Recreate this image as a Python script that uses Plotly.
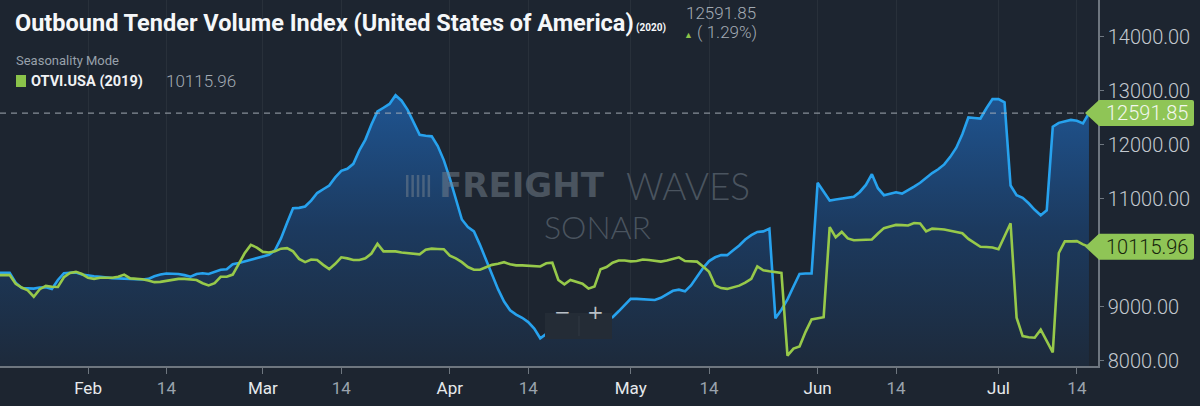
import pandas as pd
import plotly.graph_objects as go

# ---------------- data ----------------
start_date = "2020-01-17"
otvi_2020 = [
    9635, 9635, 9635, 9450, 9350, 9345, 9340, 9360, 9365, 9335,
    9500, 9625, 9630, 9640, 9600, 9580, 9570, 9560, 9545, 9535,
    9530, 9525, 9520, 9515, 9510, 9520, 9570, 9600, 9620, 9615,
    9610, 9590, 9560, 9610, 9625, 9610, 9650, 9690, 9700, 9790,
    9815, 9845, 9880, 9910, 9940, 9965, 10050, 10270, 10555, 10830,
    10835, 10860, 10970, 11110, 11180, 11250, 11400, 11520, 11560, 11650,
    11900, 12100, 12380, 12620, 12690, 12760, 12920, 12820, 12650, 12420,
    12190, 12170, 12160, 11980, 11720, 11380, 11000, 10620, 10480, 10400,
    10150, 9870, 9600, 9330, 9100, 8940, 8860, 8800, 8720, 8600,
    8420, 8500, 8560, 8600, 8640, 8680, 8700, 8720, 8740, 8760,
    8780, 8790, 8810, 8920, 9030, 9150, 9150, 9140, 9135, 9130,
    9170, 9230, 9300, 9320, 9290, 9400, 9570, 9720, 9850, 9920,
    9960, 9960, 10050, 10140, 10250, 10330, 10390, 10400, 10450, 8790,
    8950, 9140, 9380, 9610, 9620, 9620, 11300, 11130, 10970, 10990,
    11010, 11025, 11040, 11130, 11260, 11460, 11200, 11070, 11100, 11125,
    11100, 11160, 11230, 11300, 11390, 11480, 11550, 11640, 11780, 11950,
    12200, 12510, 12500, 12490, 12680, 12850, 12850, 12790, 11250, 11070,
    11020, 10920, 10800, 10700, 10790, 12340, 12410, 12440, 12465, 12450,
    12400, 12591.85,
]
otvi_2019 = [
    9590, 9590, 9590, 9430, 9360, 9310, 9190, 9330, 9390, 9375,
    9370, 9550, 9630, 9650, 9610, 9540, 9520, 9540, 9535, 9540,
    9560, 9600, 9530, 9520, 9515, 9490, 9460, 9465, 9480, 9500,
    9520, 9520, 9510, 9500, 9440, 9400, 9440, 9560, 9560, 9600,
    9800, 10000, 10150, 10100, 10020, 10010, 10030, 10080, 10090, 10030,
    9890, 9830, 9880, 9870, 9780, 9700, 9800, 9920, 9900, 9870,
    9870, 9900, 9990, 10170, 10030, 10030, 10030, 10010, 10000, 9990,
    9975, 10060, 10080, 10075, 10070, 9950, 9900, 9830, 9740, 9690,
    9690, 9735, 9780, 9800, 9830, 9790, 9770, 9770, 9765, 9760,
    9750, 9810, 9820, 9500, 9420, 9500, 9460, 9430, 9340, 9380,
    9700, 9740, 9820, 9860, 9860, 9845, 9850, 9880, 9870, 9860,
    9840, 9860, 9890, 9920, 9850, 9840, 9840, 9750, 9650, 9400,
    9350, 9335, 9360, 9395, 9450, 9520, 9750, 9680, 9660, 9650,
    9630, 8100, 8230, 8270, 8540, 8770, 8790, 8810, 10480, 10290,
    10390, 10270, 10235, 10240, 10245, 10250, 10360, 10460, 10490, 10520,
    10515, 10510, 10555, 10545, 10400, 10450, 10445, 10435, 10410, 10390,
    10365, 10260, 10180, 10115, 10110, 10100, 10070, 10300, 10550, 8800,
    8460, 8440, 8430, 8580, 8370, 8160, 10000, 10215, 10215, 10220,
    10160, 10115.96,
]
tick_dates = ["2020-02-01", "2020-02-14", "2020-03-01", "2020-03-14", "2020-04-01", "2020-04-14",
              "2020-05-01", "2020-05-14", "2020-06-01", "2020-06-14", "2020-07-01", "2020-07-14"]
tick_labels = ["Feb", "14", "Mar", "14", "Apr", "14", "May", "14", "Jun", "14", "Jul", "14"]
y_ticks = [8000, 9000, 11000, 12000, 13000, 14000]  # 10000 is hidden behind the last-value tag
change_pct = 1.29
title_text = "Outbound Tender Volume Index (United States of America)"
series_2019_name = "OTVI.USA (2019)"

# ---------------- styling ----------------
W, H = 1200, 406
ML, MR, MT, MB = 0, 102, 0, 40
PW, PH = W - ML - MR, H - MT - MB
BG = "#1d2530"
BLUE = "#27a2ee"
GREEN = "#97c94a"
TAG_GREEN = "#8fc556"
GRAY = "#a3abb4"


def px(x):
    return x / PW


def py(y):
    return 1 - y / PH


dates = pd.date_range(start_date, periods=len(otvi_2020), freq="D")
feb1 = pd.Timestamp("2020-02-01")
x_range = [feb1 - pd.Timedelta(days=14.6), feb1 + pd.Timedelta(days=167.5)]

fig = go.Figure()
fig.add_trace(go.Scatter(
    x=dates, y=otvi_2020, mode="lines",
    line=dict(color=BLUE, width=2.6),
    fill="tozeroy",
    fillgradient=dict(type="vertical", start=7900, stop=13000,
                      colorscale=[[0, "#1d2a3b"], [0.5, "#1c3a5f"], [1, "#1f5592"]]),
    hoverinfo="skip", showlegend=False,
))
fig.add_trace(go.Scatter(
    x=dates, y=otvi_2019, mode="lines",
    line=dict(color=GREEN, width=2.6),
    hoverinfo="skip", showlegend=False,
))

ticktext = []
for lab in tick_labels:
    col = "#e6e9ec" if not lab.isdigit() else "#9aa3ad"
    ticktext.append(f"<span style='color:{col}'>{lab}</span>")

fig.update_layout(
    width=W, height=H,
    margin=dict(l=ML, r=MR, t=MT, b=MB),
    paper_bgcolor=BG, plot_bgcolor=BG,
    font=dict(family="Roboto", color=GRAY),
    xaxis=dict(
        range=x_range, type="date",
        tickvals=pd.to_datetime(tick_dates), ticktext=ticktext,
        tickfont=dict(size=17, family="Roboto"),
        showgrid=True, gridcolor="rgba(255,255,255,0.05)", gridwidth=1,
        showline=True, linecolor="#6e767f", linewidth=1.5,
        ticks="outside", ticklen=6, tickcolor="#6e767f",
        zeroline=False, fixedrange=True,
    ),
    yaxis=dict(
        range=[7907, 14685], side="right",
        tickvals=y_ticks, tickformat=".2f",
        tickfont=dict(size=20, family="Roboto", color="#c3c9cf", weight=300),
        showgrid=False, zeroline=False,
        showline=True, linecolor="#6e767f", linewidth=1.5,
        ticks="outside", ticklen=4, tickcolor="#6e767f",
        fixedrange=True,
    ),
)

shapes = []
annotations = []

# dashed last-value line
shapes.append(dict(type="line", xref="paper", yref="y", x0=0, x1=px(1085),
                   y0=otvi_2020[-1], y1=otvi_2020[-1],
                   line=dict(color="rgba(170,176,184,0.75)", width=1.2, dash="6px,5px"),
                   layer="above"))

# last-value tags on the right axis
tag_path = "M-13,0 L1,13 L94,13 Q96,13 96,11 L96,-11 Q96,-13 94,-13 L1,-13 Z"
for val, txtcol in [(otvi_2020[-1], "#f3f7ee"), (otvi_2019[-1], "#16240c")]:
    shapes.append(dict(type="path", xref="paper", yref="y", xsizemode="pixel", ysizemode="pixel",
                       xanchor=1.0, yanchor=val, path=tag_path,
                       fillcolor=TAG_GREEN, line=dict(width=0), layer="above"))
    annotations.append(dict(xref="paper", yref="y", x=px(PW + 49), y=val, text=f"{val:.2f}",
                            showarrow=False, xanchor="center", yanchor="middle",
                            font=dict(size=20, family="Roboto", color=txtcol, weight=300)))

# zoom buttons overlay
shapes.append(dict(type="rect", xref="paper", yref="paper", x0=px(545), x1=px(612),
                   y0=py(339), y1=py(313), fillcolor="#242c36", line=dict(width=0), layer="above"))
shapes.append(dict(type="line", xref="paper", yref="paper", x0=px(579), x1=px(579),
                   y0=py(336), y1=py(316), line=dict(color="#303843", width=1), layer="above"))
annotations.append(dict(xref="paper", yref="paper", x=px(562), y=py(326), text="−", showarrow=False,
                        font=dict(size=20, color="#b9c0c7", family="DejaVu Sans")))
annotations.append(dict(xref="paper", yref="paper", x=px(595), y=py(326), text="+", showarrow=False,
                        font=dict(size=20, color="#b9c0c7", family="DejaVu Sans")))

# watermark
wm = "rgba(120,131,143,0.5)"
for i in range(5):
    shapes.append(dict(type="rect", xref="paper", yref="paper",
                       x0=px(406 + i * 5.4), x1=px(408.5 + i * 5.4), y0=py(197), y1=py(175),
                       fillcolor=wm, line=dict(width=0), layer="above"))
annotations.append(dict(xref="paper", yref="paper", x=px(437), y=py(185), text="<b>FREIGHT</b>",
                        showarrow=False, xanchor="left", yanchor="middle",
                        font=dict(size=34, family="DejaVu Sans", color=wm)))
annotations.append(dict(xref="paper", yref="paper", x=px(624), y=py(185), text="WAVES",
                        showarrow=False, xanchor="left", yanchor="middle",
                        font=dict(size=37, family="Lato", color=wm, weight=300)))
annotations.append(dict(xref="paper", yref="paper", x=px(597), y=py(226), text="SONAR",
                        showarrow=False, xanchor="center", yanchor="middle",
                        font=dict(size=32, family="Lato", color=wm, weight=300)))

# title block
annotations.append(dict(xref="paper", yref="paper", x=px(13), y=py(23), text=f"<b>{title_text}</b>",
                        showarrow=False, xanchor="left", yanchor="middle",
                        font=dict(size=23.5, family="Roboto", color="#f5f7f9")))
annotations.append(dict(xref="paper", yref="paper", x=px(634), y=py(28), text="<b>(2020)</b>",
                        showarrow=False, xanchor="left", yanchor="middle",
                        font=dict(size=10, family="Roboto", color="#f5f7f9")))
annotations.append(dict(xref="paper", yref="paper", x=px(684), y=py(13), text=f"{otvi_2020[-1]:.2f}",
                        showarrow=False, xanchor="left", yanchor="middle",
                        font=dict(size=17, family="Roboto", color=GRAY, weight=300)))
annotations.append(dict(xref="paper", yref="paper", x=px(682), y=py(32),
                        text=f"<span style='color:#8bc34a;font-size:9px'>▲</span> ( {change_pct:.2f}%)",
                        showarrow=False, xanchor="left", yanchor="middle",
                        font=dict(size=17, family="Roboto", color=GRAY, weight=300)))

# legend block
annotations.append(dict(xref="paper", yref="paper", x=px(14), y=py(61), text="Seasonality Mode",
                        showarrow=False, xanchor="left", yanchor="middle",
                        font=dict(size=13, family="Roboto", color="#98a1ab")))
shapes.append(dict(type="rect", xref="paper", yref="paper", x0=px(16), x1=px(26), y0=py(87), y1=py(75),
                   fillcolor="#8bc34a", line=dict(width=0), layer="above"))
annotations.append(dict(xref="paper", yref="paper", x=px(29), y=py(81), text=f"<b>{series_2019_name}</b>",
                        showarrow=False, xanchor="left", yanchor="middle",
                        font=dict(size=14.5, family="Roboto", color="#f0f2f4")))
annotations.append(dict(xref="paper", yref="paper", x=px(164), y=py(81), text=f"{otvi_2019[-1]:.2f}",
                        showarrow=False, xanchor="left", yanchor="middle",
                        font=dict(size=17, family="Roboto", color=GRAY, weight=300)))

fig.update_layout(shapes=shapes, annotations=annotations)
fig.write_html("out.html", config={"displayModeBar": False},
               post_script="document.body.style.margin='0';document.body.style.overflow='hidden';")
